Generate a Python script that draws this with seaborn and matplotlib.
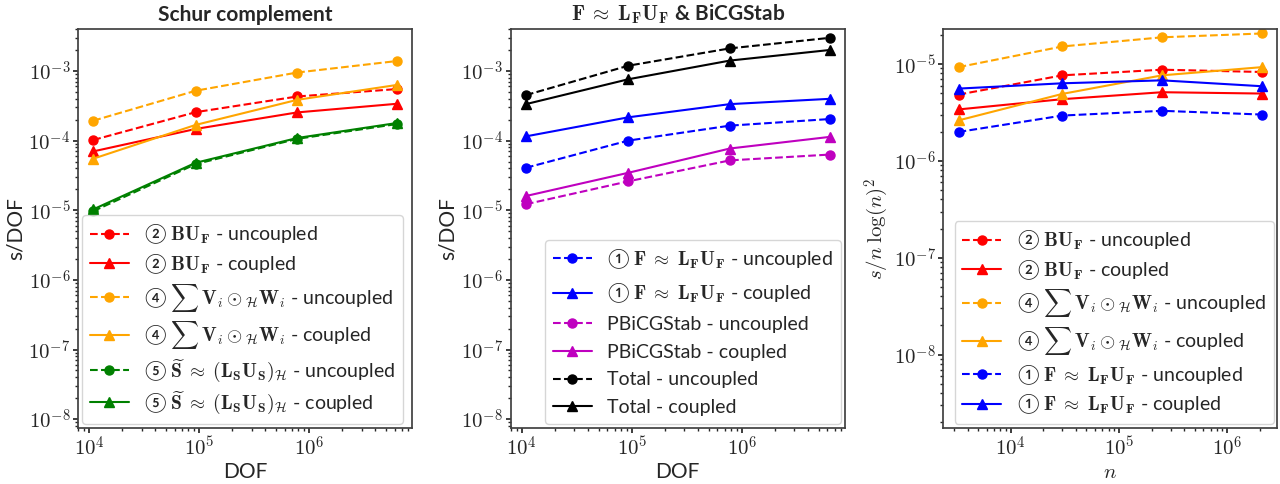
import numpy as np
import pandas as pd
import matplotlib
matplotlib.use("Agg")
import matplotlib.pyplot as plt
import matplotlib.ticker as ticker
import seaborn as sns

# x values
dof = [1.09e4, 9.3e4, 7.8e5, 6.3e6]
n = [3.3e3, 3.0e4, 2.5e5, 2.1e6]

# panel 1 : schur complement (s/DOF)
bu_unc = [1.02e-4, 2.56e-4, 4.3e-4, 5.5e-4]
bu_cpl = [7.0e-5, 1.47e-4, 2.54e-4, 3.38e-4]
vw_unc = [1.93e-4, 5.2e-4, 9.5e-4, 1.39e-3]
vw_cpl = [5.5e-5, 1.68e-4, 3.85e-4, 6.3e-4]
s_unc = [9.7e-6, 4.6e-5, 1.06e-4, 1.73e-4]
s_cpl = [1.03e-5, 4.8e-5, 1.09e-4, 1.79e-4]

# panel 2 : F ~ LU and BiCGStab (s/DOF)
f_unc = [4.07e-5, 1.0e-4, 1.64e-4, 2.04e-4]
f_cpl = [1.15e-4, 2.16e-4, 3.34e-4, 3.98e-4]
pb_unc = [1.22e-5, 2.6e-5, 5.2e-5, 6.3e-5]
pb_cpl = [1.6e-5, 3.45e-5, 7.7e-5, 1.13e-4]
tot_unc = [4.5e-4, 1.19e-3, 2.11e-3, 2.99e-3]
tot_cpl = [3.34e-4, 7.6e-4, 1.41e-3, 2.0e-3]

# panel 3 : s / n log(n)^2
bu_unc_n = [4.84e-6, 7.65e-6, 8.75e-6, 8.28e-6]
bu_cpl_n = [3.4e-6, 4.34e-6, 5.12e-6, 4.96e-6]
vw_unc_n = [9.3e-6, 1.52e-5, 1.89e-5, 2.07e-5]
vw_cpl_n = [2.62e-6, 4.92e-6, 7.65e-6, 9.3e-6]
f_unc_n = [1.99e-6, 2.94e-6, 3.29e-6, 3.01e-6]
f_cpl_n = [5.58e-6, 6.33e-6, 6.79e-6, 5.9e-6]

lab_bu = r"② $\mathbf{BU_F}$"
lab_vw = r"④ $\sum\,\mathbf{V}_i \odot_{\mathcal{H}} \mathbf{W}_i$"
lab_s = r"⑤ $\widetilde{\mathbf{S}} \;\approx\; (\mathbf{L_S U_S})_{\mathcal{H}}$"
lab_f = r"① $\mathbf{F} \;\approx\; \mathbf{L_F U_F}$"

MAGENTA = "#bf00bf"

sns.set_theme(style="ticks")
plt.rcParams["font.family"] = ["Lato", "Noto Sans CJK SC", "DejaVu Sans"]
plt.rcParams["mathtext.fontset"] = "cm"
plt.rcParams["xtick.labelsize"] = 15
plt.rcParams["ytick.labelsize"] = 15
plt.rcParams["axes.labelsize"] = 15
plt.rcParams["axes.labelpad"] = 2
plt.rcParams["xtick.major.pad"] = 2
plt.rcParams["ytick.major.pad"] = 2
plt.rcParams["xtick.major.size"] = 3.5
plt.rcParams["ytick.major.size"] = 3.5
plt.rcParams["xtick.minor.size"] = 2
plt.rcParams["ytick.minor.size"] = 2


def draw(ax, x, y, color, coupled, label):
    df = pd.DataFrame({"x": x, "y": y})
    sns.lineplot(data=df, x="x", y="y", ax=ax, color=color,
                 marker="^" if coupled else "o",
                 linestyle="-" if coupled else "--",
                 markersize=6.5, markeredgecolor=color, markeredgewidth=1,
                 linewidth=1.5, label=label + (" - coupled" if coupled else " - uncoupled"))


def fmt_log(v, pos):
    return r"$10^{%d}$" % int(round(np.log10(v)))


fig, axes = plt.subplots(1, 3, figsize=(12.8, 4.84), dpi=100)
plt.subplots_adjust(left=0.061, right=0.998, top=0.94, bottom=0.116, wspace=0.295)

ax = axes[0]
draw(ax, dof, bu_unc, "red", False, lab_bu)
draw(ax, dof, bu_cpl, "red", True, lab_bu)
draw(ax, dof, vw_unc, "orange", False, lab_vw)
draw(ax, dof, vw_cpl, "orange", True, lab_vw)
draw(ax, dof, s_unc, "green", False, lab_s)
draw(ax, dof, s_cpl, "green", True, lab_s)
ax.set_title("Schur complement", fontweight="bold", fontsize=15)
ax.set_xlabel("DOF")
ax.set_ylabel("s/DOF")
ax.set_ylim(7.5e-9, 4e-3)
ax.legend(loc="lower left", fontsize=14, borderaxespad=0.2, labelspacing=0.3)

ax = axes[1]
draw(ax, dof, f_unc, "blue", False, lab_f)
draw(ax, dof, f_cpl, "blue", True, lab_f)
draw(ax, dof, pb_unc, MAGENTA, False, "PBiCGStab")
draw(ax, dof, pb_cpl, MAGENTA, True, "PBiCGStab")
draw(ax, dof, tot_unc, "black", False, "Total")
draw(ax, dof, tot_cpl, "black", True, "Total")
ax.set_title(r"$\mathbf{F} \;\approx\; \mathbf{L_F U_F}$ & BiCGStab", fontweight="bold", fontsize=15)
ax.set_xlabel("DOF")
ax.set_ylabel("s/DOF")
ax.set_ylim(7.5e-9, 4e-3)
ax.legend(loc="lower right", fontsize=14, borderaxespad=0.2, labelspacing=0.55)

ax = axes[2]
draw(ax, n, bu_unc_n, "red", False, lab_bu)
draw(ax, n, bu_cpl_n, "red", True, lab_bu)
draw(ax, n, vw_unc_n, "orange", False, lab_vw)
draw(ax, n, vw_cpl_n, "orange", True, lab_vw)
draw(ax, n, f_unc_n, "blue", False, lab_f)
draw(ax, n, f_cpl_n, "blue", True, lab_f)
ax.set_xlabel(r"$n$")
ax.set_ylabel(r"$s/n\;\log(n)^2$")
ax.set_ylim(1.75e-9, 2.3e-5)
ax.legend(loc="lower right", fontsize=14, borderaxespad=0.2, labelspacing=0.3)

for ax in axes:
    ax.set_xscale("log")
    ax.set_yscale("log")
    for axis in (ax.xaxis, ax.yaxis):
        axis.set_major_locator(ticker.LogLocator(base=10, numticks=20))
        axis.set_minor_locator(ticker.LogLocator(base=10, subs=np.arange(2, 10), numticks=20))
        axis.set_major_formatter(ticker.FuncFormatter(fmt_log))
        axis.set_minor_formatter(ticker.NullFormatter())
    for sp in ax.spines.values():
        sp.set_color("0.25")

plt.savefig("out.png", dpi=100)
